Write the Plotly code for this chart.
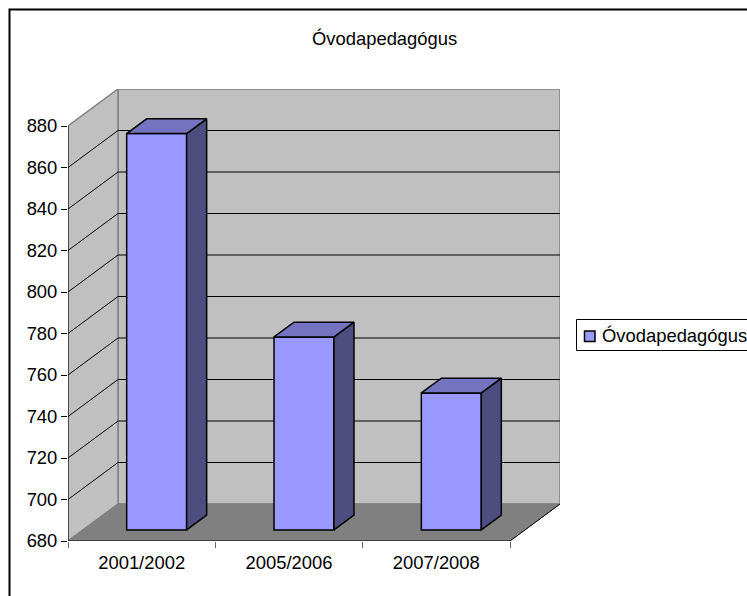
"""Óvodapedagógus: fake-3D column chart with walls, floor and gridlines in axis units."""
import plotly.graph_objects as go

categories = ["2001/2002", "2005/2006", "2007/2008"]
values = [871, 773, 746]
y_ticks = [680, 700, 720, 740, 760, 780, 800, 820, 840, 860, 880]
series_name = "Óvodapedagógus"

FONT = "Liberation Sans"
WALL = "#C0C0C0"
FLOOR = "#808080"
FRONT = "#9999FF"
TOP = "#7373BF"
SIDE = "#4D4D80"

# pixel box of the axes, back wall included
W, H = 747, 596
LEFT, RIGHT, TOP_PX, BOTTOM = 68, 560, 89, 541
DEPTH_X = 50 / ((510 - 68) / len(categories))   # depth offset in category units
DEPTH_Y = 37 / (415 / (y_ticks[-1] - y_ticks[0]))  # depth offset in value units
BAR_W = 0.407
NEAR, FAR = 0.3, 0.7   # bar position inside the depth of the floor
Y0, Y1 = y_ticks[0], y_ticks[-1]
NCAT = len(categories)


def px_x(px):
    return (px - LEFT) / (RIGHT - LEFT)


def px_y(py):
    return (BOTTOM - py) / (BOTTOM - TOP_PX)


def path(points):
    return "M" + "L".join(f"{x},{y}" for x, y in points) + "Z"


def poly(points, fill, line=None, width=1):
    return dict(type="path", path=path(points), xref="x", yref="y", layer="below",
                fillcolor=fill, line=dict(color=line or fill, width=width))


def seg(x0, y0, x1, y1, color="#000000", width=1):
    return dict(type="line", x0=x0, y0=y0, x1=x1, y1=y1, xref="x", yref="y", layer="below",
                line=dict(color=color, width=width))


shapes = [
    # back wall, side wall, floor
    poly([(DEPTH_X, Y0 + DEPTH_Y), (NCAT + DEPTH_X, Y0 + DEPTH_Y), (NCAT + DEPTH_X, Y1 + DEPTH_Y), (DEPTH_X, Y1 + DEPTH_Y)], WALL, FLOOR, 1.5),
    poly([(0, Y0), (DEPTH_X, Y0 + DEPTH_Y), (DEPTH_X, Y1 + DEPTH_Y), (0, Y1)], WALL, FLOOR, 1.5),
    poly([(0, Y0), (NCAT, Y0), (NCAT + DEPTH_X, Y0 + DEPTH_Y), (DEPTH_X, Y0 + DEPTH_Y)], FLOOR),
]
for t in y_ticks[1:-1]:
    shapes.append(seg(0, t, DEPTH_X, t + DEPTH_Y))
    shapes.append(seg(DEPTH_X, t + DEPTH_Y, NCAT + DEPTH_X, t + DEPTH_Y))
shapes += [
    seg(0, Y0, 0, Y1),
    seg(0, Y0, NCAT, Y0),
    seg(NCAT, Y0, NCAT + DEPTH_X, Y0 + DEPTH_Y),
]

# outer chart frame, open to the right and bottom of the crop
shapes.append(dict(type="path", xref="paper", yref="paper",
                   path=f"M{px_x(9.5)},{px_y(H + 5)}L{px_x(9.5)},{px_y(9.5)}L{px_x(W + 5)},{px_y(9.5)}",
                   line=dict(color="#000000", width=2)))
# legend box and swatch
shapes.append(dict(type="path", xref="paper", yref="paper",
                   path=f"M{px_x(W + 5)},{px_y(319.5)}L{px_x(576.5)},{px_y(319.5)}L{px_x(576.5)},{px_y(350.5)}L{px_x(W + 5)},{px_y(350.5)}",
                   line=dict(color="#000000", width=1)))
shapes.append(dict(type="rect", xref="paper", yref="paper",
                   x0=px_x(584.5), x1=px_x(595), y0=px_y(331), y1=px_y(341.5),
                   fillcolor=FRONT, line=dict(color="#000000", width=1.5)))

fig = go.Figure()

# bars stand NEAR of the way into the depth, so every level is lifted by the same amount
lift = NEAR * DEPTH_Y
centers = [i + 0.5 + NEAR * DEPTH_X for i in range(NCAT)]
bases = [Y0 + lift] * NCAT
fig.add_trace(go.Bar(
    x=centers, y=[v - Y0 for v in values], base=bases, width=BAR_W,
    name=series_name, marker=dict(color=FRONT, line=dict(color="#000000", width=1.5)),
    showlegend=False,
))

outline = dict(color="#000000", width=1.5)
run_x = (FAR - NEAR) * DEPTH_X
run_y = (FAR - NEAR) * DEPTH_Y
for c, v, base in zip(centers, values, bases):
    xl, xr = c - BAR_W / 2, c + BAR_W / 2
    top = v + lift
    # side face
    fig.add_trace(go.Scatter(
        x=[xr, xr + run_x, xr + run_x, xr, xr], y=[base, base + run_y, top + run_y, top, base],
        mode="lines", fill="toself", fillcolor=SIDE, line=outline, showlegend=False, hoverinfo="skip",
    ))
    # top face
    fig.add_trace(go.Scatter(
        x=[xl, xr, xr + run_x, xl + run_x, xl], y=[top, top, top + run_y, top + run_y, top],
        mode="lines", fill="toself", fillcolor=TOP, line=outline, showlegend=False, hoverinfo="skip",
    ))

annotations = [
    dict(text=series_name, xref="paper", yref="paper", x=px_x(384.5), y=px_y(38), xanchor="center",
         yanchor="middle", showarrow=False, font=dict(family=FONT, size=18.4, color="#000000")),
    dict(text=series_name, xref="paper", yref="paper", x=px_x(600), y=px_y(335), xanchor="left",
         yanchor="middle", showarrow=False, font=dict(family=FONT, size=18.4, color="#000000")),
]

fig.update_layout(
    width=W, height=H, autosize=False,
    margin=dict(l=LEFT, r=W - RIGHT, t=TOP_PX, b=H - BOTTOM, pad=0),
    paper_bgcolor="#FFFFFF", plot_bgcolor="rgba(0,0,0,0)",
    showlegend=False, shapes=shapes, annotations=annotations,
    font=dict(family=FONT, size=18.4, color="#000000"),
    xaxis=dict(
        range=[0, NCAT + DEPTH_X], showgrid=False, zeroline=False, showline=False,
        tickmode="array", tickvals=[i + 0.5 for i in range(NCAT)], ticktext=categories,
        ticks="", ticklabelstandoff=9,
        minor=dict(tickmode="array", tickvals=list(range(NCAT + 1)), ticks="outside",
                   ticklen=6, tickwidth=1, tickcolor="#666666", showgrid=False),
    ),
    yaxis=dict(
        range=[Y0, Y1 + DEPTH_Y], showgrid=False, zeroline=False, showline=False,
        tickmode="array", tickvals=y_ticks, ticks="outside", ticklen=6, tickwidth=1,
        tickcolor="#000000", ticklabelstandoff=0,
    ),
)

fig.write_html("out.html", config={"displayModeBar": False},
               post_script="document.body.style.margin='0';")
